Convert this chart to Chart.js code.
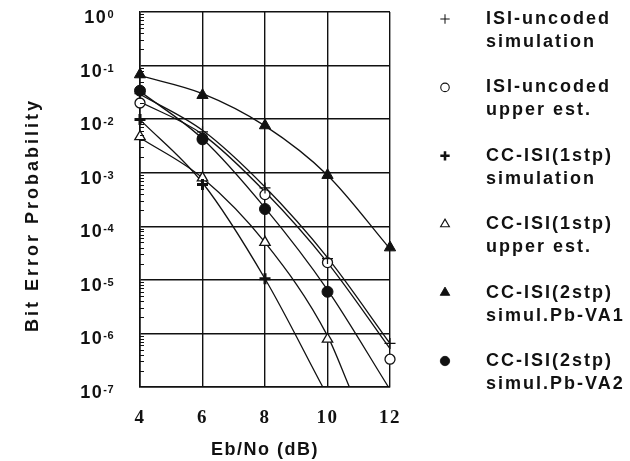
<!DOCTYPE html>
<html>
<head>
<meta charset="utf-8">
<script src="https://cdn.jsdelivr.net/npm/chart.js@4.4.1/dist/chart.umd.min.js"></script>
<style>
  html, body { margin: 0; padding: 0; background: #fff; }
  #wrap { width: 630px; height: 461px; }
</style>
</head>
<body>
<div id="wrap"><canvas id="berChart"></canvas></div>
<script>
// x positions of the simulated points (Eb/No, dB)
const ebNo = [4, 6, 8, 10, 12];
const xTicks = [4, 6, 8, 10, 12];
const yTickExps = [0, -1, -2, -3, -4, -5, -6, -7];

// marker values
const isiUncodedSim = [0.03, 0.0058, 5.2e-4, 2.5e-5, 6.5e-7];
const isiUncodedEst = [0.02, 0.0044, 3.9e-4, 2.1e-5, 3.3e-7];
const cc1Sim = [0.0098, 6.0e-4, 1.05e-5];
const cc1Est = [0.0047, 8.0e-4, 5.0e-5, 7.8e-7];
const cc2Va1 = [0.068, 0.028, 0.0076, 9.0e-4, 4.0e-5];
const cc2Va2 = [0.034, 0.0042, 2.1e-4, 6.0e-6];

// fitted curves
const fitUncodedSimX = [4, 6, 8, 10, 12];
const fitUncodedSimY = [0.029, 0.0062, 5.4e-4, 2.6e-5, 6.5e-7];
const fitUncodedEstX = [4, 6, 8, 10, 12];
const fitUncodedEstY = [0.021, 0.0052, 4.4e-4, 2.1e-5, 5.2e-7];
const fitCc1SimX = [4, 6, 8, 9.85];
const fitCc1SimY = [0.0098, 6.5e-4, 1.05e-5, 1e-7];
const fitCc1EstX = [4, 6, 8, 10, 10.7];
const fitCc1EstY = [0.0045, 8.0e-4, 5.0e-5, 9.0e-7, 1e-7];
const fitCc2Va1X = [4, 6, 8, 10, 12];
const fitCc2Va1Y = [0.065, 0.03, 0.0075, 9.0e-4, 3.8e-5];
const fitCc2Va2X = [4, 6, 8, 10, 11.95];
const fitCc2Va2Y = [0.033, 0.0043, 2.2e-4, 6.5e-6, 1e-7];

const legendLines = [
    ['ISI-uncoded', 'simulation'],
    ['ISI-uncoded', 'upper est.'],
    ['CC-ISI(1stp)', 'simulation'],
    ['CC-ISI(1stp)', 'upper est.'],
    ['CC-ISI(2stp)', 'simul.Pb-VA1'],
    ['CC-ISI(2stp)', 'simul.Pb-VA2']
];
const minorMantissas = [2, 3, 4, 5, 6, 7, 8, 9];

const ink = '#111';
const sansBold = '"Liberation Sans", Arial, sans-serif';

function toPoints(xs, ys) {
    return ys.map((y, i) => ({ x: xs[i], y: y }));
}

function markerSet(label, ys, style, radius, fill, width, order) {
    return {
        label: label,
        data: toPoints(ebNo, ys),
        showLine: false,
        clip: false,
        order: order,
        pointStyle: style,
        pointRadius: radius,
        pointHoverRadius: radius,
        pointBackgroundColor: fill,
        pointBorderColor: ink,
        pointBorderWidth: width
    };
}

function fitSet(xs, ys) {
    return {
        label: '',
        data: toPoints(xs, ys),
        showLine: true,
        order: 5,
        borderColor: ink,
        borderWidth: 1.3,
        pointRadius: 0,
        cubicInterpolationMode: 'monotone',
        fill: false
    };
}

const markerSets = [
    markerSet('ISI-uncoded simulation', isiUncodedSim, 'cross', 5.5, ink, 1.2, 2),
    markerSet('ISI-uncoded upper est.', isiUncodedEst, 'circle', 5, '#fff', 1.3, 3),
    markerSet('CC-ISI(1stp) simulation', cc1Sim, 'cross', 5.5, ink, 3, 2),
    markerSet('CC-ISI(1stp) upper est.', cc1Est, 'triangle', 6, '#fff', 1.3, 2),
    markerSet('CC-ISI(2stp) simul.Pb-VA1', cc2Va1, 'triangle', 6.5, ink, 1, 1),
    markerSet('CC-ISI(2stp) simul.Pb-VA2', cc2Va2, 'circle', 5.5, ink, 1, 0)
];

const fitSets = [
    fitSet(fitUncodedSimX, fitUncodedSimY),
    fitSet(fitUncodedEstX, fitUncodedEstY),
    fitSet(fitCc1SimX, fitCc1SimY),
    fitSet(fitCc1EstX, fitCc1EstY),
    fitSet(fitCc2Va1X, fitCc2Va1Y),
    fitSet(fitCc2Va2X, fitCc2Va2Y)
];

const spacingPlugin = {
    id: 'spacing',
    beforeDraw: function(chart) {
        chart.ctx.letterSpacing = '1.5px';
    }
};

const decorPlugin = {
    id: 'decor',
    afterDraw: function(chart) {
        const ctx = chart.ctx;
        const yScale = chart.scales.y;
        const area = chart.chartArea;

        // minor ticks on the left frame
        ctx.save();
        ctx.strokeStyle = ink;
        ctx.lineWidth = 1;
        yTickExps.forEach(function(e) {
            if (e === 0) return;
            minorMantissas.forEach(function(m) {
                const py = Math.round(yScale.getPixelForValue(m * Math.pow(10, e))) + 0.5;
                ctx.beginPath();
                ctx.moveTo(area.left, py);
                ctx.lineTo(area.left + 4, py);
                ctx.stroke();
            });
        });
        ctx.restore();

        // y tick labels: 10 with a raised exponent
        ctx.save();
        ctx.fillStyle = ink;
        ctx.textBaseline = 'alphabetic';
        yTickExps.forEach(function(e) {
            const py = yScale.getPixelForValue(Math.pow(10, e));
            const expText = String(e);
            ctx.letterSpacing = '0.5px';
            ctx.font = 'bold 11px ' + sansBold;
            const w = ctx.measureText(expText).width;
            ctx.textAlign = 'left';
            ctx.fillText(expText, 114 - w, py + 6);
            ctx.letterSpacing = '1.5px';
            ctx.font = 'bold 18px ' + sansBold;
            ctx.textAlign = 'right';
            ctx.fillText('10', 114 - w, py + 11);
        });
        ctx.restore();

        // y axis title
        ctx.save();
        ctx.letterSpacing = '3px';
        ctx.fillStyle = ink;
        ctx.font = 'bold 18px ' + sansBold;
        ctx.translate(33, 215);
        ctx.rotate(-Math.PI / 2);
        ctx.textAlign = 'center';
        ctx.textBaseline = 'middle';
        ctx.fillText('Bit Error Probability', 0, 0);
        ctx.restore();

        // legend at the right
        ctx.save();
        legendLines.forEach(function(lines, i) {
            const y0 = 19 + i * 68.4;
            const ds = chart.data.datasets[i];
            ctx.fillStyle = ds.pointBackgroundColor;
            ctx.strokeStyle = ink;
            ctx.lineWidth = ds.pointBorderWidth * 0.85;
            Chart.helpers.drawPoint(ctx, {
                pointStyle: ds.pointStyle,
                radius: ds.pointRadius * 0.85,
                rotation: 0,
                borderWidth: ds.pointBorderWidth * 0.85
            }, 445, y0);
            ctx.letterSpacing = '2px';
            ctx.fillStyle = ink;
            ctx.font = 'bold 18px ' + sansBold;
            ctx.textAlign = 'left';
            ctx.textBaseline = 'middle';
            ctx.fillText(lines[0], 486, y0);
            ctx.fillText(lines[1], 486, y0 + 23);
        });
        ctx.restore();
    }
};

const berChart = new Chart(document.getElementById('berChart').getContext('2d'), {
    type: 'scatter',
    data: { datasets: markerSets.concat(fitSets) },
    options: {
        responsive: true,
        maintainAspectRatio: false,
        animation: false,
        layout: { padding: { left: 20, right: 240, top: 12, bottom: 0 } },
        plugins: {
            legend: { display: false },
            tooltip: { enabled: false }
        },
        scales: {
            x: {
                type: 'linear',
                min: 4,
                max: 12,
                afterBuildTicks: function(scale) {
                    scale.ticks = xTicks.map(v => ({ value: v }));
                },
                afterFit: function(scale) {
                    scale.height = 74;
                    scale.paddingLeft = 0;
                    scale.paddingRight = 0;
                },
                grid: { color: ink, lineWidth: 1.4, drawTicks: false },
                border: { color: ink, width: 1.6 },
                ticks: {
                    color: ink,
                    padding: 20,
                    maxRotation: 0,
                    font: { family: '"Liberation Serif", "Times New Roman", serif', size: 19, weight: 'bold' }
                },
                title: {
                    display: true,
                    text: 'Eb/No (dB)',
                    color: ink,
                    padding: { top: 3, bottom: 0 },
                    font: { family: sansBold, size: 18, weight: 'bold' }
                }
            },
            y: {
                type: 'logarithmic',
                min: 1e-7,
                max: 1,
                afterBuildTicks: function(scale) {
                    scale.ticks = yTickExps.map(e => ({ value: Math.pow(10, e) }));
                },
                afterFit: function(scale) {
                    scale.width = 120;
                    scale.paddingTop = 0;
                    scale.paddingBottom = 0;
                },
                grid: { color: ink, lineWidth: 1.4, drawTicks: false },
                border: { color: ink, width: 1.6 },
                ticks: { display: false }
            }
        }
    },
    plugins: [spacingPlugin, decorPlugin]
});
</script>
</body>
</html>
